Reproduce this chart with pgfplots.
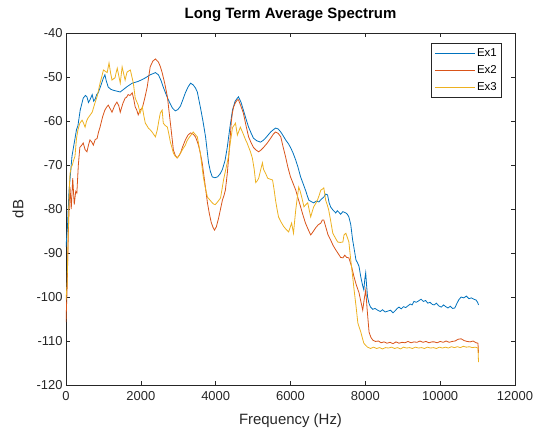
\documentclass[border=0pt]{standalone}
\usepackage{fontspec}
\setmainfont{Liberation Sans}
\usepackage{pgfplots}
\pgfplotsset{compat=1.18}
\definecolor{mblue}{rgb}{0,0.447,0.741}
\definecolor{morange}{rgb}{0.85,0.325,0.098}
\definecolor{myellow}{rgb}{0.929,0.694,0.125}
\definecolor{maxis}{HTML}{262626}
\begin{document}
\begin{tikzpicture}
\useasboundingbox (-66bp,-47bp) rectangle (468bp,385bp);
\begin{axis}[
  at={(0,0)}, anchor=south west,
  scale only axis, width=449bp, height=352bp,
  xmin=0, xmax=12000, ymin=-120, ymax=-40,
  xtick={0,2000,...,12000}, ytick={-120,-110,...,-40},
  scaled x ticks=false,
  /pgf/number format/1000 sep={},
  /pgf/number format/assume math mode=true,
  tick align=inside, major tick length=4bp,
  axis line style={maxis, line width=0.5pt},
  tick style={maxis, line width=0.5pt},
  ticklabel style={font=\fontsize{13}{15}\selectfont, text=maxis},
  xticklabel style={yshift=-3bp},
  title={\bfseries Long Term Average Spectrum},
  title style={font=\fontsize{15}{17}\selectfont, at={(0.5,1.0256)}, anchor=base},
  xlabel={Frequency (Hz)}, ylabel={dB},
  label style={font=\fontsize{15}{17}\selectfont, text=maxis},
  xlabel style={at={(0.5,-0.1136)}, anchor=base},
  ylabel style={at={(-0.1070,0.5)}, anchor=center},
  legend style={at={(0.971,0.9716)}, anchor=north east, draw=maxis, line width=0.5pt,
    font=\fontsize{11.5}{13}\selectfont, row sep=3.5pt, inner xsep=3pt, inner ysep=3.5pt},
  legend cell align=left,
  legend image code/.code={\draw[#1, line width=0.9pt] (0cm,0cm) -- (1.4cm,0cm);},
  every axis plot/.append style={line width=0.8pt},
]
\addplot[mblue] coordinates {
(0,-88.6)(40,-84)(80,-76)(120,-72)(160,-68)(200,-66)(240,-64)(280,-62)(320,-61)(380,-57.5)(460,-54.8)(520,-54.2)(560,-54.5)(600,-55.8)(640,-55.2)(700,-54)(740,-55.5)(780,-55)(820,-54)(860,-53.6)(930,-52)(1000,-50.2)(1040,-49.5)(1080,-51)(1130,-52.3)(1200,-52.8)(1260,-53)(1350,-53.2)(1450,-53.4)(1540,-52.8)(1630,-52.2)(1700,-51.8)(1770,-51.4)(1850,-51.2)(1930,-51)(2030,-50.6)(2120,-50.2)(2250,-49.5)(2390,-49)(2470,-49.5)(2540,-50.8)(2600,-52.3)(2700,-54.5)(2780,-56)(2840,-57)(2920,-57.7)(2990,-57.4)(3060,-56.6)(3130,-55)(3190,-53.6)(3260,-52.3)(3330,-51.4)(3400,-51.8)(3460,-52.5)(3510,-53.4)(3590,-56.8)(3660,-60)(3730,-63.6)(3810,-69.5)(3860,-71.5)(3910,-72.7)(3980,-72.9)(4050,-72.7)(4120,-72)(4180,-71)(4250,-69)(4310,-66)(4380,-61.5)(4450,-57.5)(4520,-55.5)(4580,-54.8)(4610,-54.5)(4680,-55.8)(4740,-57.5)(4810,-59.5)(4880,-61.4)(4950,-62.8)(5010,-63.9)(5100,-64.5)(5200,-64.8)(5270,-64.4)(5330,-63.9)(5400,-63.2)(5470,-62.5)(5540,-62)(5600,-61.6)(5670,-61.8)(5740,-62.5)(5800,-63.3)(5870,-64.3)(5940,-65.1)(6000,-66)(6070,-67.3)(6140,-68.9)(6200,-70.5)(6270,-72.7)(6340,-74.3)(6400,-75.7)(6450,-77)(6490,-78)(6550,-78.3)(6620,-78.6)(6690,-78.2)(6760,-78.4)(6820,-77.8)(6890,-77.3)(6940,-76.6)(6990,-76.8)(7030,-78.5)(7070,-79.5)(7140,-80.3)(7210,-80.9)(7250,-80.4)(7290,-80.7)(7340,-81.2)(7400,-80.6)(7480,-80.9)(7520,-81.2)(7560,-81.8)(7610,-83.5)(7660,-87)(7700,-89)(7750,-91.6)(7790,-92.2)(7830,-93)(7880,-95.5)(7930,-97.5)(7960,-98.4)(7985,-96)(8010,-94.5)(8035,-97.5)(8060,-100)(8100,-101.5)(8140,-102.3)(8200,-102.8)(8260,-102.6)(8330,-103)(8400,-103.3)(8460,-102.9)(8530,-103.4)(8600,-103.2)(8670,-103)(8740,-103.6)(8800,-103.1)(8850,-102.6)(8900,-102.3)(8960,-102.7)(9020,-102.2)(9080,-102.4)(9140,-102)(9200,-101.6)(9250,-101.8)(9300,-101)(9360,-101.2)(9420,-100.9)(9490,-100.5)(9550,-101)(9610,-100.8)(9670,-101.4)(9730,-101.2)(9790,-101.7)(9840,-101.8)(9900,-101.4)(9960,-102)(10030,-102.3)(10090,-101.8)(10150,-102.2)(10210,-102.5)(10270,-102.1)(10330,-102.6)(10390,-102.5)(10440,-101.6)(10500,-100.6)(10560,-100)(10630,-100.2)(10700,-99.8)(10770,-100.4)(10830,-100.2)(10900,-100.5)(10960,-100.7)(11000,-101.2)(11025,-101.8)
};
\addplot[morange] coordinates {
(0,-105.7)(30,-98)(60,-86)(90,-78)(107,-75)(140,-80)(180,-73)(220,-79)(260,-76)(290,-76.4)(330,-70)(370,-66)(420,-65.5)(460,-65)(510,-66.5)(560,-67)(600,-65.5)(640,-64.3)(690,-64.8)(730,-65.5)(780,-64.2)(830,-64)(870,-62.5)(910,-61.4)(980,-59)(1040,-57.5)(1090,-56.8)(1130,-56.4)(1180,-57.2)(1230,-58)(1300,-56.5)(1360,-55.7)(1410,-56.5)(1450,-58)(1520,-56)(1580,-54.8)(1620,-54.6)(1660,-54)(1710,-54.2)(1770,-53.6)(1810,-55)(1850,-56.8)(1890,-57.5)(1930,-58.6)(1980,-57.5)(2040,-57)(2100,-55)(2170,-52.3)(2210,-50)(2250,-47.7)(2320,-46.4)(2390,-45.9)(2470,-46.6)(2520,-47.6)(2570,-49)(2640,-51.5)(2710,-54.5)(2750,-57.5)(2790,-60.5)(2830,-63.5)(2870,-66.6)(2920,-67.8)(2970,-68.4)(3010,-68)(3060,-67.3)(3120,-65.8)(3190,-64.3)(3260,-63.2)(3330,-62.7)(3400,-63)(3460,-63.6)(3500,-64.5)(3540,-65.5)(3590,-67.3)(3640,-69.5)(3710,-74)(3780,-78.6)(3830,-81)(3880,-83)(3930,-84.2)(3970,-84.8)(4020,-84)(4080,-82)(4130,-80)(4180,-78)(4220,-77)(4260,-75.7)(4310,-72)(4350,-68)(4390,-63.5)(4420,-60)(4450,-58)(4480,-56.8)(4530,-55.8)(4580,-55.2)(4610,-55.2)(4670,-56.5)(4740,-58.2)(4810,-61)(4880,-63.6)(4950,-65)(5010,-66)(5080,-66.6)(5150,-67)(5210,-66.6)(5280,-66)(5380,-65)(5470,-63.9)(5540,-63)(5600,-62.5)(5670,-62.8)(5740,-63.6)(5800,-65.8)(5870,-68.2)(5930,-70.5)(6000,-72.7)(6070,-74.2)(6140,-75.7)(6200,-77.5)(6270,-79.5)(6330,-81.3)(6400,-83.2)(6470,-84.6)(6540,-85.9)(6600,-85.2)(6670,-84.3)(6740,-83.6)(6810,-83.2)(6850,-82.5)(6890,-82.5)(6940,-84)(7000,-85.8)(7070,-87)(7140,-88.3)(7210,-89.3)(7280,-90.2)(7340,-91)(7400,-91.1)(7450,-90.5)(7500,-91)(7560,-91.1)(7630,-93)(7700,-95.5)(7760,-97.3)(7830,-99)(7880,-101)(7930,-103)(7970,-100.5)(8010,-98.4)(8050,-103)(8100,-108)(8150,-109.2)(8200,-109.8)(8270,-110.1)(8350,-110)(8420,-110.4)(8500,-110.2)(8580,-110.5)(8660,-110.3)(8740,-110.6)(8820,-110.2)(8900,-110.5)(8980,-110.3)(9060,-110.4)(9140,-110.1)(9220,-110.4)(9300,-110.2)(9380,-110.3)(9460,-110)(9540,-110.3)(9620,-110.1)(9700,-110.4)(9780,-110.2)(9840,-110.2)(9920,-110.4)(10000,-110.1)(10080,-110.3)(10160,-110)(10240,-110.3)(10320,-110.1)(10400,-110)(10480,-109.6)(10560,-109.5)(10640,-109.9)(10720,-110.1)(10800,-110.2)(10880,-110)(10960,-110.4)(11010,-110.5)(11025,-112.7)
};
\addplot[myellow] coordinates {
(0,-100.7)(30,-97)(60,-85)(90,-75)(107,-72)(140,-70.5)(170,-70)(200,-69)(240,-68)(280,-64)(320,-62)(370,-60.5)(430,-59.8)(470,-60.5)(510,-61.4)(550,-60)(590,-59.3)(650,-58.6)(700,-58)(770,-56)(830,-54.5)(870,-53)(910,-51.4)(960,-49.8)(1000,-48.4)(1050,-48.7)(1100,-49)(1150,-46.8)(1190,-49)(1230,-50.7)(1270,-50.4)(1310,-50.2)(1340,-49)(1370,-48)(1410,-49.7)(1450,-51.4)(1500,-47.7)(1540,-49.2)(1580,-50.7)(1630,-48.9)(1680,-48.6)(1720,-48.4)(1760,-49.9)(1800,-51.4)(1850,-54.8)(1890,-55.6)(1930,-56.4)(1980,-58.2)(2040,-56.8)(2080,-58.8)(2120,-60.5)(2160,-61)(2200,-61.6)(2250,-62)(2300,-62.5)(2340,-63)(2390,-63.6)(2440,-62)(2480,-60)(2520,-58.2)(2570,-57.5)(2600,-60.5)(2650,-61)(2710,-61.4)(2750,-63)(2790,-64.8)(2830,-66)(2870,-67.3)(2920,-68)(2970,-68.4)(3010,-68)(3060,-67.3)(3120,-66.4)(3190,-65.5)(3230,-64.6)(3270,-64)(3340,-63.2)(3400,-62.5)(3450,-63)(3510,-63.6)(3550,-65.5)(3590,-67.3)(3630,-70)(3670,-72.7)(3720,-75)(3780,-77.3)(3850,-78)(3910,-78.6)(3950,-78.9)(3990,-79)(4060,-78.3)(4130,-77.5)(4170,-75.5)(4210,-73.4)(4270,-71)(4340,-68.2)(4390,-65)(4450,-61.5)(4490,-61)(4530,-60.5)(4580,-63.2)(4620,-62.3)(4660,-61.4)(4730,-62.8)(4800,-64.3)(4840,-65)(4880,-65.9)(4930,-67)(4980,-68.4)(5030,-71)(5070,-74)(5110,-73.6)(5150,-73)(5200,-71.2)(5250,-69.5)(5280,-71)(5340,-72)(5390,-73)(5450,-73.2)(5520,-73.4)(5560,-75.5)(5600,-78)(5640,-80)(5680,-81.8)(5750,-83)(5820,-84)(5880,-84.6)(5950,-85.2)(6030,-83.2)(6080,-85.5)(6110,-82.8)(6140,-80.2)(6180,-77.5)(6220,-75)(6260,-76)(6300,-77.3)(6330,-78.4)(6360,-79.5)(6410,-79)(6460,-78.6)(6500,-80.2)(6540,-81.8)(6580,-80.6)(6620,-79.5)(6670,-78.8)(6720,-78)(6770,-76.8)(6810,-75.7)(6850,-75.5)(6890,-75.2)(6940,-78)(6980,-79)(7020,-80.2)(7070,-82.5)(7130,-85.5)(7200,-86.6)(7260,-87.5)(7330,-87.6)(7400,-87.5)(7430,-85.9)(7480,-85.5)(7520,-86.5)(7560,-87.5)(7610,-91.6)(7650,-94.5)(7700,-98.4)(7750,-102)(7800,-105.9)(7840,-107)(7880,-108)(7920,-109.3)(7960,-110.5)(8010,-111)(8060,-111.4)(8140,-111.7)(8220,-111.4)(8300,-111.7)(8380,-111.5)(8460,-111.8)(8540,-111.5)(8620,-111.6)(8700,-111.4)(8780,-111.7)(8860,-111.5)(8940,-111.8)(9020,-111.4)(9100,-111.6)(9180,-111.5)(9260,-111.7)(9340,-111.4)(9420,-111.6)(9500,-111.5)(9580,-111.7)(9660,-111.4)(9740,-111.6)(9820,-111.5)(9900,-111.7)(9980,-111.4)(10060,-111.6)(10140,-111.4)(10220,-111.6)(10300,-111.3)(10380,-111.5)(10460,-111.3)(10540,-111.5)(10620,-111.2)(10700,-111.4)(10780,-111.3)(10860,-111.5)(10940,-111.4)(11010,-111.6)(11025,-114.8)
};
\legend{Ex1,Ex2,Ex3}
\end{axis}
\end{tikzpicture}
\end{document}
